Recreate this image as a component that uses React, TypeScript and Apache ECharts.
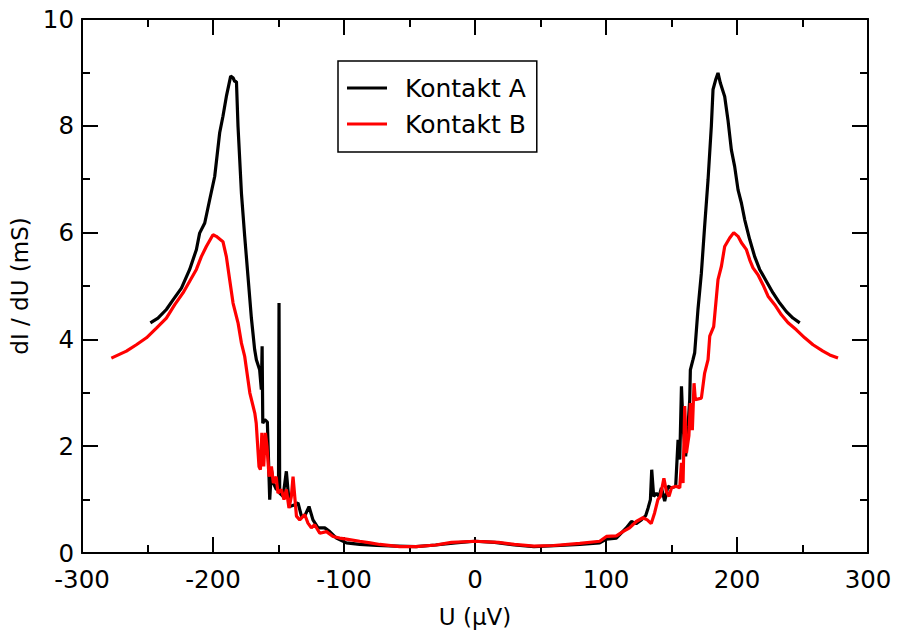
import React, { useEffect, useRef } from "react";
import * as echarts from "echarts";

const seriesNames = ["Kontakt A", "Kontakt B"];

const uA = [
  -247.8, -242, -235.6, -230.5, -224.1, -217.8, -212.7, -210.2, -206.3, -202.5,
  -198.7, -194.9, -192.4, -189.8, -186.5, -184.7, -183.4, -182.1, -180.9, -178.3,
  -175.8, -173.3, -170.7, -168.2, -166.9, -164.4, -163.1, -162.5, -162, -160.5,
  -158.5, -156.7, -155.4, -153.9, -151.6, -150.0, -149.6, -149.1, -146.5, -144,
  -142.8, -141.5, -138, -135.1, -132.5, -130, -126.7, -123.7, -119.8, -114.7,
  -110.9, -105.8, -98.2, -88, -75, -60, -45, -30, -15, 0,
  15, 30, 45, 65, 80, 95.2, 100.3, 107.9, 115.5, 119.4,
  123, 127, 130.3, 132.1, 133.9, 134.9, 136.4, 138.5, 140.5, 142.3,
  144.8, 147.3, 149.9, 153.2, 155, 156.3, 157.6, 158.8, 160.8, 162.6,
  163.9, 164.4, 166.4, 167.7, 170.2, 172.8, 175.3, 177.9, 180.4, 181.7,
  183.7, 185.5, 187.3, 190.6, 193.1, 195.7, 198.2, 200.8, 203.4, 205.9,
  209.7, 213.5, 217.3, 222.4, 227.5, 232.6, 237.7, 242.7, 247.9,
];
const gA = [
  4.31, 4.40, 4.56, 4.74, 4.96, 5.31, 5.68, 5.99, 6.18, 6.62,
  7.05, 7.87, 8.18, 8.55, 8.93, 8.90, 8.83, 8.83, 7.99, 6.74,
  5.93, 5.18, 4.40, 3.81, 3.62, 3.43, 3.06, 3.87, 2.43, 2.50,
  2.45, 1.0, 1.56, 1.31, 1.19, 1.20, 4.68, 1.12, 1.06, 1.53,
  1.19, 0.87, 0.90, 0.94, 0.69, 0.69, 0.87, 0.62, 0.47, 0.47,
  0.40, 0.28, 0.19, 0.16, 0.14, 0.13, 0.12, 0.15, 0.19, 0.22,
  0.20, 0.15, 0.12, 0.14, 0.16, 0.19, 0.26, 0.28, 0.47, 0.59,
  0.55, 0.62, 0.70, 0.84, 1.0, 1.56, 1.06, 1.12, 1.06, 1.22,
  0.97, 1.25, 1.22, 1.25, 2.12, 1.75, 3.12, 2.37, 1.81, 2.37,
  2.87, 3.43, 3.62, 3.75, 4.56, 5.24, 6.12, 6.99, 7.99, 8.68,
  8.86, 8.99, 8.80, 8.55, 8.11, 7.55, 7.24, 6.80, 6.55, 6.24,
  5.87, 5.55, 5.31, 5.09, 4.87, 4.68, 4.52, 4.40, 4.31,
];

const uB = [
  -277.6, -266.1, -258.5, -250.8, -243.2, -235.6, -229.2, -222.9, -217.8, -212.7,
  -208.9, -205.1, -200, -197.5, -192.4, -189.8, -187.3, -184.7, -180.9, -178.3,
  -175.8, -171.9, -168.1, -167, -164.9, -163.8, -162.7, -161.3, -160, -158.8,
  -157.2, -155.4, -153.9, -151.8, -150.4, -147.8, -145.8, -144, -142, -140.2,
  -138.9, -137.6, -136.3, -133.8, -130, -127.5, -124.9, -122.4, -118.5, -113.4,
  -108.4, -103.3, -98.2, -88, -80, -72.7, -57.5, -45, -30, -18,
  0, 18, 30, 45, 60, 80, 95.2, 100.3, 107.9, 112.9,
  118, 123.1, 128.2, 131.5, 134.5, 137.1, 139.6, 141.5, 144.2, 146.1,
  148.1, 150, 153.5, 156.3, 157.6, 158.8, 160.1, 161.4, 163.3, 164.4,
  165.9, 167.2, 168.2, 172.8, 175.3, 177.9, 179.2, 182.2, 185.5, 188.1,
  190.6, 194.4, 197.5, 200.8, 203.4, 207.2, 209.7, 212.2, 216, 219.9,
  223.7, 228.8, 233.9, 239, 245.3, 251.7, 258, 265.6, 270.8, 277.1,
];
const gB = [
  3.65, 3.78, 3.90, 4.03, 4.21, 4.40, 4.65, 4.87, 5.09, 5.31,
  5.55, 5.74, 5.96, 5.93, 5.83, 5.55, 5.12, 4.68, 4.31, 3.93,
  3.68, 3.0, 2.62, 2.43, 1.62, 1.56, 2.25, 1.62, 2.25, 2.0,
  1.43, 1.62, 1.31, 1.43, 1.12, 1.19, 1.0, 1.19, 0.84, 1.06,
  1.43, 1.06, 0.69, 0.62, 0.72, 0.56, 0.47, 0.53, 0.37, 0.40,
  0.31, 0.28, 0.26, 0.22, 0.19, 0.16, 0.12, 0.12, 0.15, 0.20,
  0.22, 0.20, 0.16, 0.13, 0.14, 0.18, 0.22, 0.31, 0.32, 0.40,
  0.47, 0.59, 0.66, 0.62, 0.55, 0.75, 1.0, 1.06, 1.40, 1.15,
  1.06, 1.22, 1.25, 1.22, 1.69, 1.31, 2.75, 1.87, 2.2, 2.81,
  2.3, 3.18, 2.87, 2.90, 3.37, 3.62, 4.06, 4.24, 5.12, 5.37,
  5.74, 5.90, 6.00, 5.93, 5.81, 5.68, 5.49, 5.34, 5.21, 5.02,
  4.81, 4.65, 4.46, 4.31, 4.18, 4.03, 3.90, 3.78, 3.71, 3.65,
];

const xMin = -300;
const xMax = 300;
const xStep = 100;
const yMin = 0;
const yMax = 10;
const yStep = 2;
const xTitle = "U (µV)";
const yTitle = "dI / dU (mS)";

const FONT = "DejaVu Sans";

function pairs(xs: number[], ys: number[]) {
  return xs.map((x, i) => [x, ys[i]]);
}

export default function App() {
  const ref = useRef<HTMLDivElement>(null);
  useEffect(() => {
    if (!ref.current) return;
    const chart = echarts.init(ref.current, undefined, { renderer: "svg" });
    const axisLine = { show: true, onZero: false, lineStyle: { color: "#000", width: 2 } };
    const axisTick = { show: true, inside: true, length: 16, lineStyle: { color: "#000", width: 2 } };
    const minorTick = { show: true, splitNumber: 2, length: 8, lineStyle: { color: "#000", width: 2 } };
    const xBase = {
      type: "value" as const,
      min: xMin,
      max: xMax,
      interval: xStep,
      axisLine,
      axisTick,
      minorTick,
      splitLine: { show: false },
    };
    const yBase = {
      type: "value" as const,
      min: yMin,
      max: yMax,
      interval: yStep,
      axisLine,
      axisTick,
      minorTick,
      splitLine: { show: false },
    };
    chart.setOption({
      animation: false,
      backgroundColor: "#fff",
      textStyle: { fontFamily: FONT },
      grid: { left: 82, right: 29, top: 19, bottom: 82, containLabel: false },
      legend: {
        orient: "vertical",
        left: 338,
        top: 61,
        padding: [14, 11, 15, 9],
        borderColor: "#000",
        borderWidth: 1.5,
        backgroundColor: "#fff",
        icon: "rect",
        itemWidth: 40,
        itemHeight: 3,
        itemGap: 10,
        textStyle: {
          fontFamily: FONT,
          fontSize: 25,
          lineHeight: 26,
          color: "#000",
          padding: [0, 0, 0, 13],
        },
        data: seriesNames,
      },
      xAxis: [
        {
          ...xBase,
          position: "bottom",
          name: xTitle,
          nameLocation: "middle",
          nameGap: 52,
          nameTextStyle: { fontFamily: FONT, fontSize: 23, color: "#000" },
          axisLabel: { show: true, margin: 17, lineHeight: 18, fontFamily: FONT, fontSize: 24.5, color: "#000" },
        },
        { ...xBase, position: "top", axisLabel: { show: false } },
      ],
      yAxis: [
        {
          ...yBase,
          position: "left",
          name: yTitle,
          nameLocation: "middle",
          nameGap: 46,
          nameTextStyle: { fontFamily: FONT, fontSize: 23, color: "#000" },
          axisLabel: { show: true, margin: 8, lineHeight: 18, fontFamily: FONT, fontSize: 24.5, color: "#000" },
        },
        { ...yBase, position: "right", axisLabel: { show: false } },
      ],
      series: [
        {
          name: seriesNames[0],
          type: "line",
          xAxisIndex: 0,
          yAxisIndex: 0,
          data: pairs(uA, gA),
          showSymbol: false,
          symbol: "none",
          color: "#000",
          lineStyle: { color: "#000", width: 3.2 },
          z: 3,
        },
        {
          name: seriesNames[1],
          type: "line",
          xAxisIndex: 0,
          yAxisIndex: 0,
          data: pairs(uB, gB),
          showSymbol: false,
          symbol: "none",
          color: "#ff0000",
          lineStyle: { color: "#ff0000", width: 3.2 },
          z: 4,
        },
      ],
    });
    return () => chart.dispose();
  }, []);
  return (
    <div
      ref={ref}
      style={{ position: "fixed", left: 0, top: 0, width: 897, height: 635, background: "#fff" }}
    />
  );
}
